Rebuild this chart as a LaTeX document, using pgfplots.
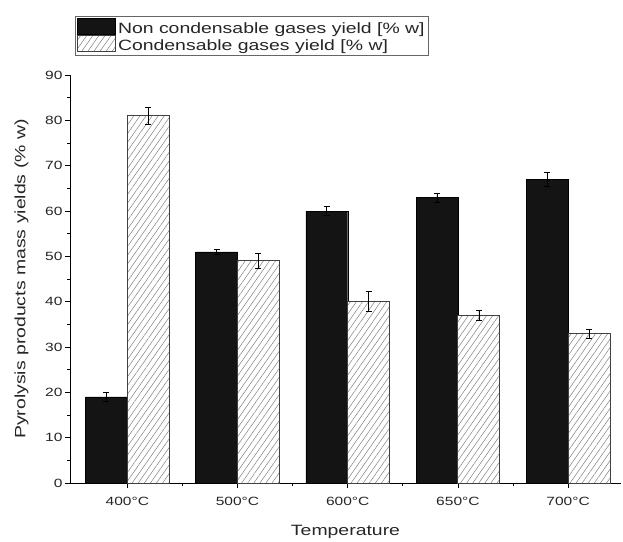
\documentclass[border=0pt]{standalone}
\usepackage{pgfplots}
\pgfplotsset{compat=1.18}
\usepackage{pgfplotstable}
\usepackage{fontspec}
\setmainfont{Liberation Sans}[FakeStretch=1.3]
\usetikzlibrary{patterns.meta}
\pgfplotstableread{
x black berr hatch herr
0 19 0.9 81 1.8
1 51 0.5 49 1.7
2 60 1.0 40 2.2
3 63 1.0 37 1.2
4 67 1.6 33 1.0
}\data
\begin{document}
\begin{tikzpicture}
\begin{axis}[
  name=ax,
  scale only axis, width=551bp, height=408bp,
  ybar=0pt, bar width=0.38,
  xmin=-0.52, xmax=4.48, ymin=0, ymax=90,
  axis lines*=left,
  xtick={0,1,2,3,4},
  xticklabels={400°C,500°C,600°C,650°C,700°C},
  minor xtick={0.5,1.5,2.5,3.5},
  ytick={0,10,...,90},
  minor ytick={5,15,...,85},
  tick align=outside, tick pos=left,
  major tick length=5bp, minor tick length=3bp,
  every tick/.style={black, line width=0.8pt},
  axis line style={line width=1pt},
  /pgf/number format/assume math mode=true,
  ticklabel style={font=\fontsize{12}{14}\selectfont, text=black!85},
  yticklabel style={xshift=1bp},
  xticklabel style={yshift=-6bp},
  xlabel={Temperature}, ylabel={Pyrolysis products mass yields (\% w)},
  label style={font=\fontsize{15}{17}\selectfont, text=black!85},
  xlabel style={yshift=-12bp},
  ylabel style={yshift=10bp},
  legend style={at={(0.009,1.145)}, anchor=north west, draw=black!60, line width=0.8pt,
    font=\fontsize{15}{16}\selectfont, text=black!85, inner sep=1.5pt, row sep=-1.5pt,
    legend cell align=left},
  area legend,
  legend image code/.code={\draw[#1] (0cm,-0.2cm) rectangle (1.35cm,0.36cm);},
  error bars/error bar style={black, line width=0.6pt},
  error bars/error mark options={rotate=90, mark size=3bp, line width=0.6pt, black},
]
\addplot[fill=black!92, draw=black, error bars/.cd, y dir=both, y explicit]
  table[x=x, y=black, y error=berr]{\data};
\addplot[fill=white, draw=black!75, line width=0.9pt,
  postaction={pattern={Lines[angle=55, distance=5pt, line width=0.5pt]}, pattern color=gray},
  error bars/.cd, y dir=both, y explicit]
  table[x=x, y=hatch, y error=herr]{\data};
\legend{Non condensable gases yield [\% w], Condensable gases yield [\% w]}
\end{axis}
\path ([xshift=-70bp,yshift=75bp]ax.north west) rectangle ([xshift=2bp,yshift=-58bp]ax.south east);
\end{tikzpicture}
\end{document}
